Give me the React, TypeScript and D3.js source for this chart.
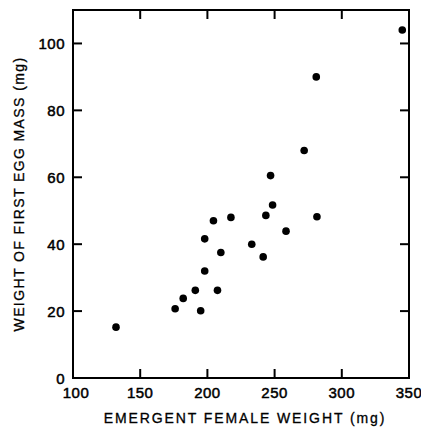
import React from 'react';
import * as d3 from 'd3';

// Emergent female weight (mg) vs weight of first egg mass (mg)
const femaleWeight = [345, 281, 272, 247, 132, 176, 182, 191, 195, 198, 198, 204.5, 207.5, 210, 217.5, 233, 241.5, 243.5, 248.5, 258.5, 281.5];
const eggMass = [104, 90, 68, 60.5, 15.2, 20.7, 23.8, 26.2, 20.1, 32, 41.6, 47, 26.2, 37.5, 48, 40, 36.2, 48.6, 51.7, 43.9, 48.2];

const xTicks = [100, 150, 200, 250, 300, 350];
const yTicks = [0, 20, 40, 60, 80, 100];

const xTitle = 'EMERGENT FEMALE WEIGHT (mg)';
const yTitle = 'WEIGHT OF FIRST EGG MASS (mg)';

const left = 73, right = 409, top = 10, bottom = 378;
const tickLen = 9;
const font = 'Liberation Sans, Arial, Helvetica, sans-serif';

const App = () => {
    const x = d3.scaleLinear().domain([100, 350]).range([left, right]);
    const y = d3.scaleLinear().domain([0, 110]).range([bottom, top]);
    const pts = femaleWeight.map((w, i) => ({ w, m: eggMass[i] }));

    return (
        <svg width={421} height={428} style={{ position: 'absolute', left: 0, top: 0, background: '#fff' }}>
            <rect x={left} y={top} width={right - left} height={bottom - top} fill="none" stroke="#000" strokeWidth={2} />
            {/* inward ticks on all four sides */}
            {xTicks.slice(1, -1).map(t => (
                <g key={'x' + t} stroke="#000" strokeWidth={2}>
                    <line x1={x(t)} x2={x(t)} y1={bottom} y2={bottom - tickLen} />
                    <line x1={x(t)} x2={x(t)} y1={top} y2={top + tickLen} />
                </g>
            ))}
            {yTicks.slice(1).map(t => (
                <g key={'y' + t} stroke="#000" strokeWidth={2}>
                    <line x1={left} x2={left + tickLen} y1={y(t)} y2={y(t)} />
                    <line x1={right} x2={right - tickLen} y1={y(t)} y2={y(t)} />
                </g>
            ))}
            {xTicks.map(t => (
                <text key={'xl' + t} x={x(t) + (t === 100 ? 3 : 0)} y={398} textAnchor="middle"
                    fontFamily={font} fontSize={15} letterSpacing={0.5} stroke="#000" strokeWidth={0.5}>{t}</text>
            ))}
            {yTicks.map(t => (
                <text key={'yl' + t} x={65} y={y(t) + 5.5} textAnchor="end"
                    fontFamily={font} fontSize={15} letterSpacing={0.5} stroke="#000" strokeWidth={0.5}>{t}</text>
            ))}
            <text x={245} y={423} textAnchor="middle" fontFamily={font} fontSize={14} letterSpacing={1.9}
                stroke="#000" strokeWidth={0.3}>{xTitle}</text>
            <text transform="translate(24,194) rotate(-90)" textAnchor="middle" fontFamily={font} fontSize={14}
                letterSpacing={1.4} stroke="#000" strokeWidth={0.3}>{yTitle}</text>
            {pts.map((d, i) => (
                <circle key={i} cx={x(d.w)} cy={y(d.m)} r={3.8} fill="#000" />
            ))}
        </svg>
    );
};

export default App;
